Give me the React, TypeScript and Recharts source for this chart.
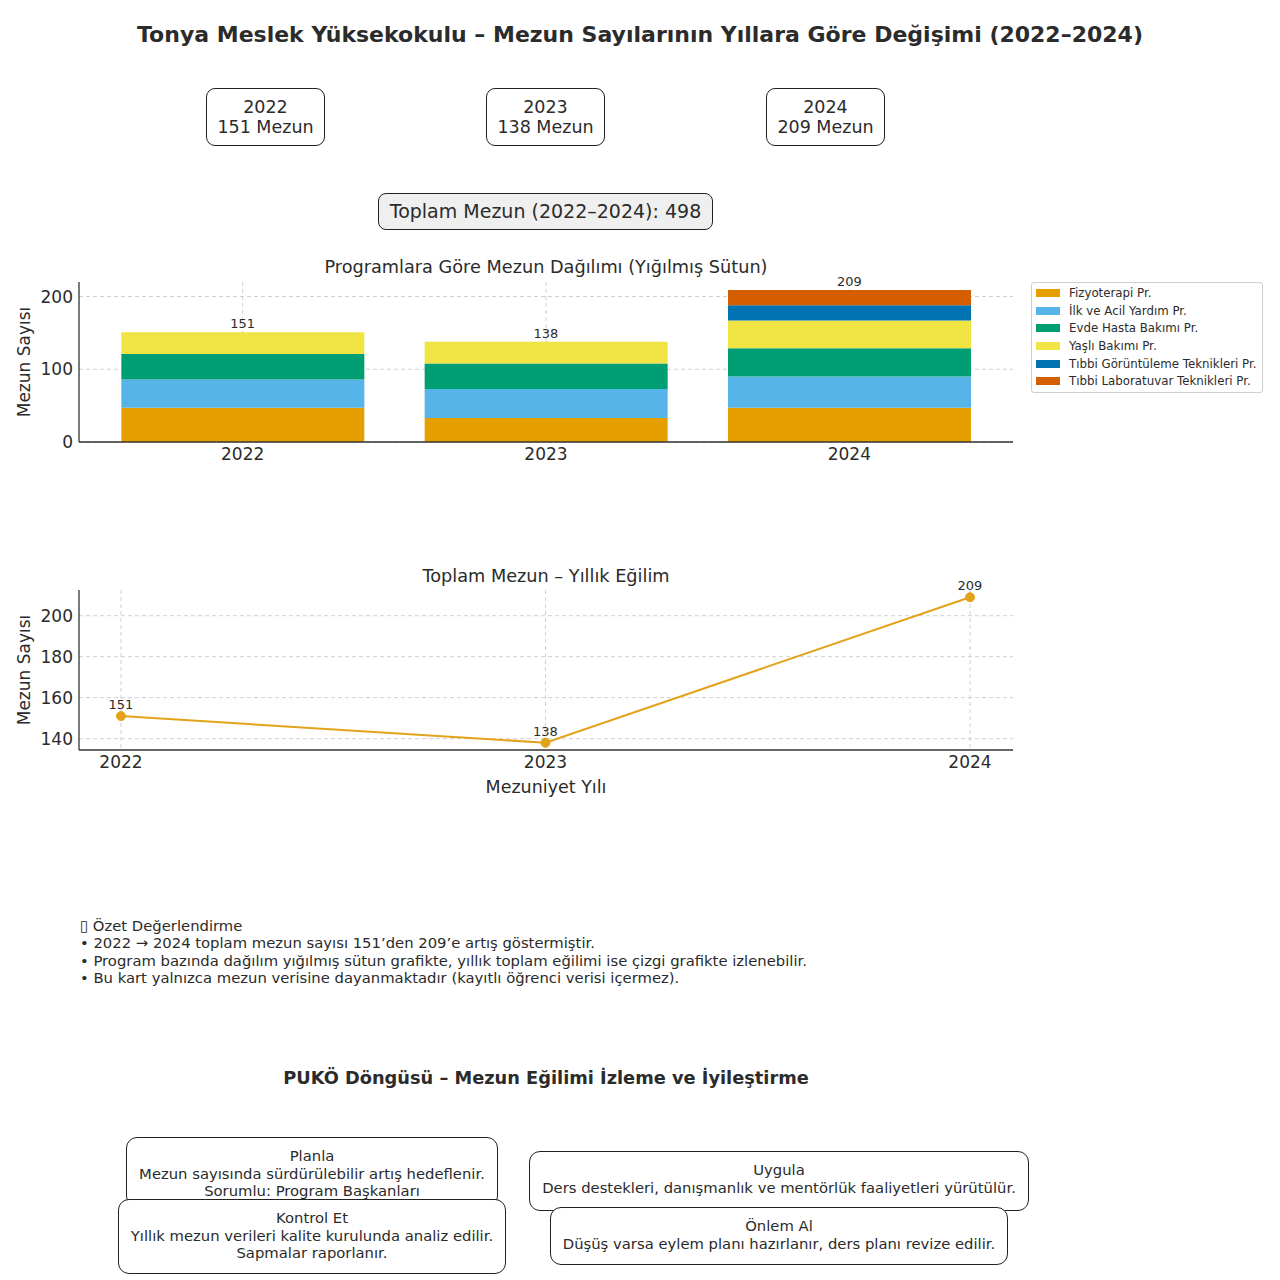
import React from 'react';
import {
  ComposedChart,
  Bar,
  Line,
  LineChart,
  XAxis,
  YAxis,
  CartesianGrid,
  LabelList,
  Label,
} from 'recharts';

const years = ['2022', '2023', '2024'];
const programs = [
  'Fizyoterapi Pr.',
  'İlk ve Acil Yardım Pr.',
  'Evde Hasta Bakımı Pr.',
  'Yaşlı Bakımı Pr.',
  'Tıbbi Görüntüleme Teknikleri Pr.',
  'Tıbbi Laboratuvar Teknikleri Pr.',
];
const fizyoterapi = [47, 33, 47];
const ilkYardim = [39, 40, 43];
const evdeBakim = [35, 35, 39];
const yasliBakimi = [30, 30, 38];
const goruntuleme = [0, 0, 21];
const laboratuvar = [0, 0, 21];
const programColors = ['#E69F00', '#56B4E9', '#009E73', '#F0E442', '#0072B2', '#D55E00'];
const lineColor = '#E3A21A';
const barTicks = [0, 100, 200];
const lineTicks = [140, 160, 180, 200];

const seriesValues = [fizyoterapi, ilkYardim, evdeBakim, yasliBakimi, goruntuleme, laboratuvar];
const totals = years.map((_, i) => seriesValues.reduce((s, arr) => s + arr[i], 0));
const grandTotal = totals.reduce((a, b) => a + b, 0);

const data = years.map((y, i) => {
  const row: any = { year: y, total: totals[i] };
  seriesValues.forEach((arr, k) => {
    row['p' + k] = arr[i];
  });
  return row;
});

const FONT = '"DejaVu Sans", sans-serif';
const TXT = '#2b2b2b';

const scaleOf = (axis: any) => {
  if (!axis) return null;
  const s = axis.scale;
  if (typeof s === 'function') return s;
  if (s && typeof s.map === 'function') return (v: any) => s.map(v);
  return null;
};

const hGen = (ticks: number[]) => (props: any) => {
  const sc = scaleOf(props.yAxis);
  if (!sc) return [];
  return ticks.map((t) => sc(t)).filter((v: any) => typeof v === 'number' && !isNaN(v));
};

const vGen = (props: any) => {
  const ax = props.xAxis;
  const sc = scaleOf(ax);
  if (!sc) return [];
  let bw = 0;
  const raw = ax && ax.scale;
  if (raw && typeof raw.bandwidth === 'function') bw = raw.bandwidth() / 2;
  return years.map((y) => sc(y) + bw).filter((v: any) => typeof v === 'number' && !isNaN(v));
};

const YLabel = (props: any) => {
  const vb = props.viewBox || {};
  const x = (vb.x || 0) + 24;
  const y = (vb.y || 0) + (vb.height || 0) / 2;
  return (
    <text
      x={x}
      y={y}
      transform={`rotate(-90 ${x} ${y})`}
      textAnchor="middle"
      dominantBaseline="central"
      fontSize={17}
      fill={TXT}
      fontFamily={FONT}
    >
      Mezun Sayısı
    </text>
  );
};

const boxStyle = (left: number, top: number, width: number, height: number, z: number): React.CSSProperties => ({
  position: 'absolute',
  left,
  top,
  width,
  height,
  boxSizing: 'border-box',
  border: '1.5px solid #222',
  borderRadius: 11,
  background: '#fff',
  textAlign: 'center',
  fontSize: 14.8,
  lineHeight: '17.5px',
  paddingTop: 9,
  color: TXT,
  zIndex: z,
  overflow: 'hidden',
  whiteSpace: 'nowrap',
});

export default function App() {
  return (
    <div
      style={{
        position: 'absolute',
        left: 0,
        top: 0,
        width: 1280,
        height: 1280,
        background: '#fff',
        fontFamily: FONT,
        color: TXT,
      }}
    >
      <div
        style={{
          position: 'absolute',
          top: 22,
          left: 0,
          width: 1280,
          textAlign: 'center',
          fontWeight: 'bold',
          fontSize: 22,
          lineHeight: '26px',
          whiteSpace: 'nowrap',
        }}
      >
        Tonya Meslek Yüksekokulu – Mezun Sayılarının Yıllara Göre Değişimi (2022–2024)
      </div>

      {years.map((y, i) => (
        <div
          key={y}
          style={{
            position: 'absolute',
            left: 206 + i * 280,
            top: 88,
            width: 119,
            height: 58,
            boxSizing: 'border-box',
            border: '1.5px solid #222',
            borderRadius: 9,
            textAlign: 'center',
            fontSize: 17.5,
            lineHeight: '20px',
            paddingTop: 8,
          }}
        >
          <div>{y}</div>
          <div>{totals[i]} Mezun</div>
        </div>
      ))}

      <div
        style={{
          position: 'absolute',
          left: 378,
          top: 193,
          width: 335,
          height: 37,
          boxSizing: 'border-box',
          border: '1.5px solid #222',
          borderRadius: 8,
          background: '#efefef',
          textAlign: 'center',
          fontSize: 19,
          lineHeight: '34px',
          whiteSpace: 'nowrap',
        }}
      >
        Toplam Mezun (2022–2024): {grandTotal}
      </div>

      <div
        style={{
          position: 'absolute',
          left: 79,
          top: 257,
          width: 934,
          textAlign: 'center',
          fontSize: 17.7,
          lineHeight: '20px',
          whiteSpace: 'nowrap',
        }}
      >
        Programlara Göre Mezun Dağılımı (Yığılmış Sütun)
      </div>

      <div style={{ position: 'absolute', left: 0, top: 250 }}>
        <ComposedChart
          width={1020}
          height={230}
          data={data}
          margin={{ top: 32, right: 7, bottom: 0, left: 0 }}
          barCategoryGap="10%"
        >
          <CartesianGrid
            stroke="#d0d0d0"
            strokeDasharray="4 3"
            horizontalCoordinatesGenerator={hGen(barTicks)}
            verticalCoordinatesGenerator={vGen}
          />
          <XAxis
            dataKey="year"
            height={38}
            padding={{ left: 12, right: 12 }}
            tick={{ fontSize: 17, fill: TXT, fontFamily: FONT }}
            tickLine={false}
            tickSize={4}
            tickMargin={2}
            axisLine={{ stroke: '#333', strokeWidth: 1.3 }}
          />
          <YAxis
            width={79}
            domain={[0, 220]}
            ticks={barTicks}
            tick={{ fontSize: 17, fill: TXT, fontFamily: FONT }}
            tickLine={false}
            tickSize={4}
            tickMargin={2}
            axisLine={{ stroke: '#333', strokeWidth: 1.3 }}
          >
            <Label content={YLabel} />
          </YAxis>
          {programs.map((p, k) => (
            <Bar
              key={p}
              dataKey={'p' + k}
              name={p}
              stackId="a"
              fill={programColors[k]}
              isAnimationActive={false}
            />
          ))}
          <Line
            dataKey="total"
            stroke="none"
            dot={false}
            activeDot={false}
            legendType="none"
            isAnimationActive={false}
          >
            <LabelList dataKey="total" position="top" offset={4} fontSize={13} fill={TXT} fontFamily={FONT} />
          </Line>
        </ComposedChart>
      </div>

      <div
        style={{
          position: 'absolute',
          left: 1031,
          top: 282,
          width: 232,
          border: '1px solid #cfcfcf',
          borderRadius: 3,
          background: '#fff',
          padding: '1px 4px 2px 4px',
          boxSizing: 'border-box',
          fontSize: 11.8,
          color: TXT,
        }}
      >
        {programs.map((p, i) => (
          <div key={p} style={{ display: 'flex', alignItems: 'center', height: 17.7 }}>
            <span
              style={{
                display: 'inline-block',
                width: 24,
                height: 8,
                background: programColors[i],
                marginRight: 9,
                flexShrink: 0,
              }}
            />
            <span style={{ whiteSpace: 'nowrap' }}>{p}</span>
          </div>
        ))}
      </div>

      <div
        style={{
          position: 'absolute',
          left: 79,
          top: 566,
          width: 934,
          textAlign: 'center',
          fontSize: 17.7,
          lineHeight: '20px',
          whiteSpace: 'nowrap',
        }}
      >
        Toplam Mezun – Yıllık Eğilim
      </div>

      <div style={{ position: 'absolute', left: 0, top: 560 }}>
        <LineChart width={1020} height={250} data={data} margin={{ top: 30, right: 7, bottom: 0, left: 0 }}>
          <CartesianGrid
            stroke="#d0d0d0"
            strokeDasharray="4 3"
            horizontalCoordinatesGenerator={hGen(lineTicks)}
            verticalCoordinatesGenerator={vGen}
          />
          <XAxis
            dataKey="year"
            height={60}
            padding={{ left: 42, right: 43 }}
            tick={{ fontSize: 17, fill: TXT, fontFamily: FONT }}
            tickLine={false}
            tickSize={4}
            tickMargin={2}
            axisLine={{ stroke: '#333', strokeWidth: 1.3 }}
          >
            <Label value="Mezuniyet Yılı" position="insideBottom" offset={17} fontSize={17.5} fill={TXT} fontFamily={FONT} />
          </XAxis>
          <YAxis
            width={79}
            domain={[134.45, 212.55]}
            ticks={lineTicks}
            allowDataOverflow
            tick={{ fontSize: 17, fill: TXT, fontFamily: FONT }}
            tickLine={false}
            tickSize={4}
            tickMargin={2}
            axisLine={{ stroke: '#333', strokeWidth: 1.3 }}
          >
            <Label content={YLabel} />
          </YAxis>
          <Line
            dataKey="total"
            stroke={lineColor}
            strokeWidth={2}
            dot={{ r: 4.5, fill: lineColor, stroke: lineColor, strokeWidth: 1 }}
            activeDot={false}
            isAnimationActive={false}
          >
            <LabelList dataKey="total" position="top" offset={7} fontSize={13} fill={TXT} fontFamily={FONT} />
          </Line>
        </LineChart>
      </div>

      <div
        style={{
          position: 'absolute',
          left: 80,
          top: 917,
          fontSize: 14.8,
          lineHeight: '17.4px',
          whiteSpace: 'nowrap',
        }}
      >
        <div>▯ Özet Değerlendirme</div>
        <div>• 2022 → 2024 toplam mezun sayısı 151’den 209’e artış göstermiştir.</div>
        <div>• Program bazında dağılım yığılmış sütun grafikte, yıllık toplam eğilimi ise çizgi grafikte izlenebilir.</div>
        <div>• Bu kart yalnızca mezun verisine dayanmaktadır (kayıtlı öğrenci verisi içermez).</div>
      </div>

      <div
        style={{
          position: 'absolute',
          left: 79,
          top: 1067,
          width: 934,
          textAlign: 'center',
          fontSize: 17.8,
          fontWeight: 'bold',
          lineHeight: '22px',
          whiteSpace: 'nowrap',
        }}
      >
        PUKÖ Döngüsü – Mezun Eğilimi İzleme ve İyileştirme
      </div>

      <div style={boxStyle(126, 1137, 372, 70, 1)}>
        <div>Planla</div>
        <div>Mezun sayısında sürdürülebilir artış hedeflenir.</div>
        <div>Sorumlu: Program Başkanları</div>
      </div>
      <div style={boxStyle(118, 1199, 388, 75, 2)}>
        <div>Kontrol Et</div>
        <div>Yıllık mezun verileri kalite kurulunda analiz edilir.</div>
        <div>Sapmalar raporlanır.</div>
      </div>
      <div style={boxStyle(529, 1151, 500, 60, 1)}>
        <div>Uygula</div>
        <div>Ders destekleri, danışmanlık ve mentörlük faaliyetleri yürütülür.</div>
      </div>
      <div style={boxStyle(550, 1207, 458, 58, 2)}>
        <div>Önlem Al</div>
        <div>Düşüş varsa eylem planı hazırlanır, ders planı revize edilir.</div>
      </div>
    </div>
  );
}
